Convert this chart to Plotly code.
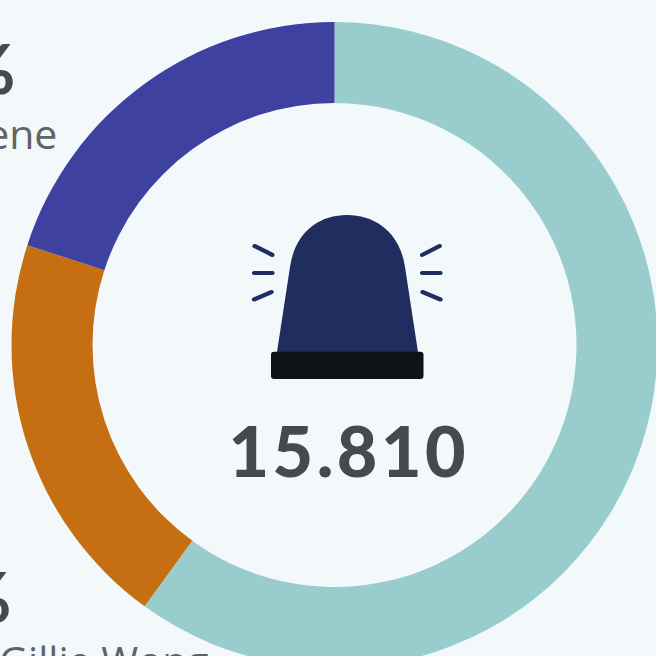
import math
import plotly.graph_objects as go

slice_names = ["Others", "Gillie Wong", "Irene"]
slice_values = [9486, 3162, 3162]
slice_colors = ["#99cdcd", "#c66f12", "#3e41a0"]
total_label = "15.810"
share_labels = ["20%", "20%"]

W, H = 660, 672
BG = "#f3f9fb"
TXT = "#464a4d"
NAVY = "#1f2d5f"

def px(x): return x / W
def py(y): return 1 - y / H

def pth(*cmds):
    out = []
    for c in cmds:
        if isinstance(c, str):
            out.append(c)
        else:
            out.append(f"{px(c[0]):.5f},{py(c[1]):.5f}")
    return " ".join(out)

def capsule(x0, y0, x1, y1, r=2.1):
    a = math.atan2(y1 - y0, x1 - x0)
    pts = []
    for i in range(7):
        t = a + math.pi / 2 + math.pi * i / 6
        pts.append((x0 + r * math.cos(t), y0 + r * math.sin(t)))
    for i in range(7):
        t = a - math.pi / 2 + math.pi * i / 6
        pts.append((x1 + r * math.cos(t), y1 + r * math.sin(t)))
    return "M " + " L ".join(pth(p) for p in pts) + " Z"

def filled(path, color):
    return dict(type="path", xref="paper", yref="paper", path=path,
                fillcolor=color, line=dict(width=0), layer="above")

shapes = [
    filled(pth("M", (277, 352), "L", (290, 267),
               "C", (295, 233), (318, 215), (347, 215),
               "C", (376, 215), (400, 233), (405, 267),
               "L", (418, 352), "Z"), NAVY),
    filled(pth("M", (274, 351.7), "L", (420.5, 351.7),
               "Q", (423.5, 351.7), (423.5, 354.7),
               "L", (423.5, 376), "Q", (423.5, 379), (420.5, 379),
               "L", (274, 379), "Q", (271, 379), (271, 376),
               "L", (271, 354.7), "Q", (271, 351.7), (274, 351.7), "Z"), "#0e1316"),
]
for seg in [(254.5, 246, 272.5, 255), (254, 273, 272.5, 273), (254, 299.5, 271.5, 292),
            (439.8, 246, 422, 255), (422, 273, 440.5, 273), (422.5, 292, 440.5, 299.5)]:
    shapes.append(filled(capsule(*seg), NAVY))

def label(text, x, y, size, family, weight, anchor, color=TXT):
    return dict(text=text, x=px(x), y=py(y),
                xref="paper", yref="paper", xanchor=anchor, yanchor="middle",
                showarrow=False, align=anchor,
                font=dict(family=family, size=size, color=color, weight=weight))

annotations = [
    label(total_label, 349, 450, 70, "Lato", 900, "center"),
    label(share_labels[1], 17, 68, 68, "Lato", 900, "right"),
    label(slice_names[2], 59, 133, 41, "Open Sans", 400, "right", "#5f6467"),
    label(share_labels[0], 13, 595, 68, "Lato", 900, "right"),
    label(slice_names[1], -3, 660, 40, "Open Sans", 400, "left", "#5f6467"),
]

fig = go.Figure(go.Pie(
    labels=slice_names, values=slice_values, sort=False, direction="clockwise",
    rotation=0, hole=242 / 323, textinfo="none", hoverinfo="skip", showlegend=False,
    marker=dict(colors=slice_colors, line=dict(width=0)),
    domain=dict(x=[px(11.5), px(657.5)], y=[py(668), py(22)]),
))
fig.update_layout(width=W, height=H, margin=dict(l=0, r=0, t=0, b=0, pad=0),
                  paper_bgcolor=BG, plot_bgcolor=BG, shapes=shapes,
                  annotations=annotations, showlegend=False)

post = """
document.documentElement.style.overflow='hidden';
document.body.style.overflow='hidden';
document.body.style.margin='0';
document.body.style.background='#f3f9fb';
document.querySelectorAll('.annotation-text').forEach(function(t){
  if (t.textContent.indexOf('15.810')>=0) t.style.letterSpacing='3.5px';
});
"""
fig.write_html("out.html", post_script=post, config=dict(displayModeBar=False))
